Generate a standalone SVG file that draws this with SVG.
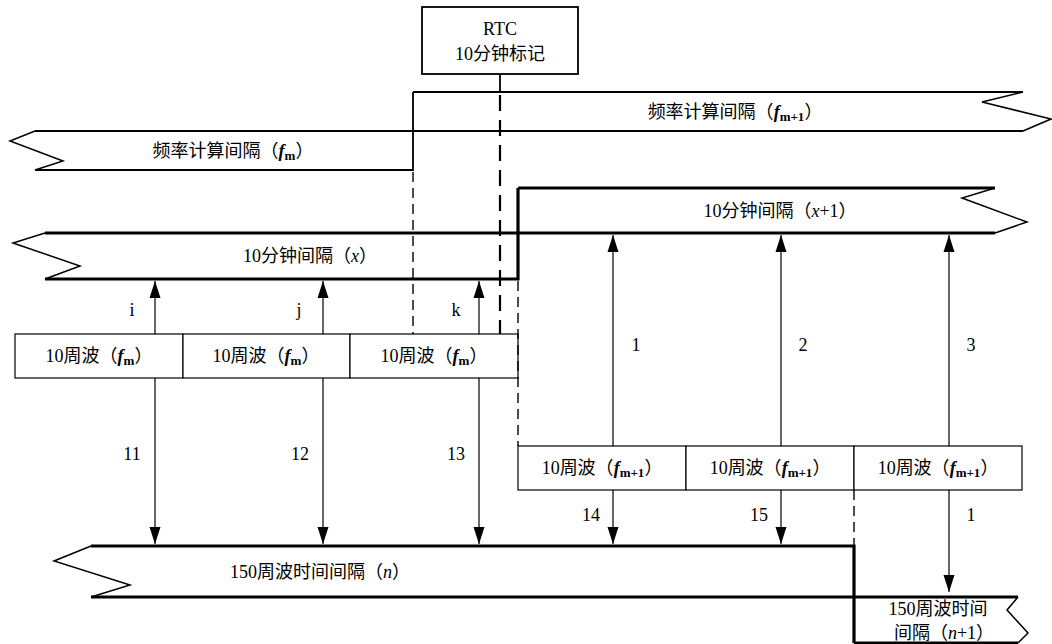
<svg xmlns="http://www.w3.org/2000/svg" width="1052" height="644" viewBox="0 0 1052 644">
<defs>
<style>
text{font-family:"Liberation Serif","Noto Sans CJK SC",serif;font-size:18px;fill:#000;text-anchor:middle}
.lbl{font-size:18px}
.thin{fill:none;stroke:#000;stroke-width:1.8}
.thick{fill:none;stroke:#000;stroke-width:3.2}
.zig{fill:none;stroke:#000;stroke-width:1.5;stroke-linejoin:miter}
.box{fill:#fff;stroke:#000;stroke-width:1.2}
.arr{fill:none;stroke:#000;stroke-width:1.2}
.dash{fill:none;stroke:#000;stroke-width:1.4;stroke-dasharray:10 6}
.dashb{fill:none;stroke:#000;stroke-width:2.2;stroke-dasharray:16 9}
.f{font-style:italic;font-weight:bold}
.s{font-size:13px;font-weight:bold}
.i{font-style:italic}
</style>
<marker id="ah" markerUnits="userSpaceOnUse" markerWidth="18" markerHeight="12" refX="17" refY="6" orient="auto">
<path d="M0,0.5 L17,6 L0,11.5 z" fill="#000"/>
</marker>
</defs>
<rect width="1052" height="644" fill="#fff"/>

<g id="rtc">
<rect x="422" y="7" width="156" height="67" fill="#fff" stroke="#000" stroke-width="1.8"/>
<text x="500" y="35">RTC</text>
<text x="500" y="60">10分钟标记</text>
</g>

<g id="band-fm">
<path class="thin" d="M35,131 H413 M35,170 H413 V92"/>
<path class="zig" d="M35,131 L10,141 L63,161 L35,170"/>
<text x="233" y="157">频率计算间隔（<tspan class="f">f</tspan><tspan class="s" dy="3">m</tspan><tspan dy="-3">）</tspan></text>
</g>

<g id="band-fm1">
<path class="thin" d="M413,92 H1023 M413,131 H1023"/>
<path class="zig" d="M1023,92 L982,102 L1051,119 L1023,131"/>
<text x="735" y="118">频率计算间隔（<tspan class="f">f</tspan><tspan class="s" dy="3">m+1</tspan><tspan dy="-3">）</tspan></text>
</g>

<g id="band-x">
<path class="thick" d="M45,233 H518 M45,279 H518 V188"/>
<path class="zig" d="M45,233 L13,243 L80,266 L45,279"/>
<text x="310" y="262">10分钟间隔（<tspan class="i">x</tspan>）</text>
</g>

<g id="band-x1">
<path class="thick" d="M518,188 H995 M518,233 H995"/>
<path class="zig" d="M995,188 L962,198 L1027,222 L995,233"/>
<text x="780" y="217">10分钟间隔（<tspan class="i">x</tspan>+1）</text>
</g>

<g id="band-n">
<path class="thick" d="M91,546 H854 V643 M91,597 H854"/>
<path class="zig" d="M91,546 L54,561 L130,585 L91,597"/>
<text x="320" y="578">150周波时间间隔（<tspan class="i">n</tspan>）</text>
</g>

<g id="band-n1">
<path class="thick" d="M854,597 H1018 M854,643 H1018"/>
<path class="zig" d="M1018,597 L1007,610 L1028,633 L1018,643"/>
<text x="938" y="615">150周波时间</text>
<text x="944" y="639">间隔（<tspan class="i">n</tspan>+1）</text>
</g>

<g id="cycles-fm">
<rect class="box" x="15" y="334" width="168" height="44"/>
<rect class="box" x="183" y="334" width="167" height="44"/>
<rect class="box" x="350" y="334" width="168" height="44"/>
<text x="99" y="362">10周波（<tspan class="f">f</tspan><tspan class="s" dy="3">m</tspan><tspan dy="-3">）</tspan></text>
<text x="266" y="362">10周波（<tspan class="f">f</tspan><tspan class="s" dy="3">m</tspan><tspan dy="-3">）</tspan></text>
<text x="434" y="362">10周波（<tspan class="f">f</tspan><tspan class="s" dy="3">m</tspan><tspan dy="-3">）</tspan></text>
</g>

<g id="cycles-fm1">
<rect class="box" x="518" y="446" width="168" height="44"/>
<rect class="box" x="686" y="446" width="168" height="44"/>
<rect class="box" x="854" y="446" width="168" height="44"/>
<text x="602" y="474">10周波（<tspan class="f">f</tspan><tspan class="s" dy="3">m+1</tspan><tspan dy="-3">）</tspan></text>
<text x="770" y="474">10周波（<tspan class="f">f</tspan><tspan class="s" dy="3">m+1</tspan><tspan dy="-3">）</tspan></text>
<text x="938" y="474">10周波（<tspan class="f">f</tspan><tspan class="s" dy="3">m+1</tspan><tspan dy="-3">）</tspan></text>
</g>

<g id="connectors">
<path class="thin" d="M500,74 V92"/>
<path class="dashb" d="M500,95 V334"/>
<path class="dash" d="M413,172 V334"/>
<path class="dash" d="M518,281 V446"/>
<path class="dash" d="M854,490 V545"/>
<path class="arr" marker-end="url(#ah)" d="M155,334 V281"/>
<path class="arr" marker-end="url(#ah)" d="M323,334 V281"/>
<path class="arr" marker-end="url(#ah)" d="M479,334 V281"/>
<path class="arr" marker-end="url(#ah)" d="M155,378 V544"/>
<path class="arr" marker-end="url(#ah)" d="M323,378 V544"/>
<path class="arr" marker-end="url(#ah)" d="M479,378 V544"/>
<path class="arr" marker-end="url(#ah)" d="M613,446 V235"/>
<path class="arr" marker-end="url(#ah)" d="M781,446 V235"/>
<path class="arr" marker-end="url(#ah)" d="M949,446 V235"/>
<path class="arr" marker-end="url(#ah)" d="M613,490 V544"/>
<path class="arr" marker-end="url(#ah)" d="M781,490 V544"/>
<path class="arr" marker-end="url(#ah)" d="M949,490 V592"/>
<text class="lbl" x="132" y="316">i</text>
<text class="lbl" x="299" y="316">j</text>
<text class="lbl" x="456" y="316">k</text>
<text class="lbl" x="132" y="460">11</text>
<text class="lbl" x="300" y="460">12</text>
<text class="lbl" x="456" y="460">13</text>
<text class="lbl" x="636" y="351">1</text>
<text class="lbl" x="803" y="351">2</text>
<text class="lbl" x="971" y="351">3</text>
<text class="lbl" x="591" y="521">14</text>
<text class="lbl" x="759" y="521">15</text>
<text class="lbl" x="971" y="521">1</text>
</g>
</svg>
